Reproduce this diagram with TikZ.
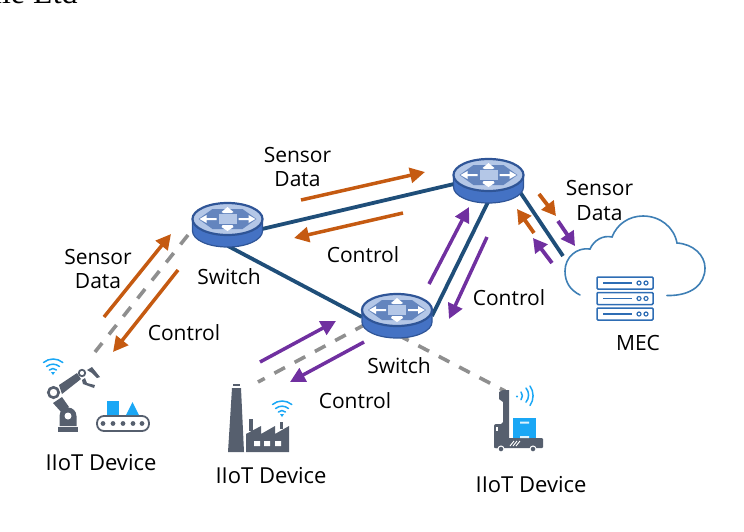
\documentclass[tikz,border=0pt]{standalone}
\usepackage{fontspec}
\setmainfont{Open Sans}
\newfontfamily\serifclip{Liberation Serif}
\usetikzlibrary{arrows.meta}
\definecolor{link}{HTML}{1F4E79}
\definecolor{orangeflow}{HTML}{C55A11}
\definecolor{purpleflow}{HTML}{7030A0}
\definecolor{swblue}{HTML}{4472C4}
\definecolor{swedge}{HTML}{2F5597}
\definecolor{swtop}{HTML}{B4C7E7}
\definecolor{swinner}{HTML}{6485BE}
\definecolor{slate}{HTML}{565F6E}
\definecolor{sky}{HTML}{1AA7F5}
\definecolor{cloudline}{HTML}{3E7FB5}
\definecolor{srv}{HTML}{2E6DB4}
\definecolor{dashgray}{HTML}{8F8F8F}
\tikzset{
  x=1pt,y=-1pt,
  lbl/.style={font=\fontsize{21}{24.5}\selectfont,align=center,inner sep=0pt,text=black},
  devlbl/.style={font=\fontsize{22}{24.5}\selectfont,align=center,inner sep=0pt,text=black},
  swnode/.style={inner sep=0pt,minimum width=71pt,minimum height=44pt},
  linkline/.style={draw=link,line width=3.8pt},
  flowO/.style={draw=orangeflow,line width=3.5pt,-{Triangle[length=15pt,width=15pt]}},
  flowP/.style={draw=purpleflow,line width=3.5pt,-{Triangle[length=15pt,width=15pt]}},
  flowOs/.style={draw=orangeflow,line width=3.8pt,-{Triangle[length=14pt,width=15pt]}},
  flowPs/.style={draw=purpleflow,line width=3.8pt,-{Triangle[length=14pt,width=15pt]}},
  wireless/.style={draw=dashgray,line width=3.6pt,dash pattern=on 12pt off 11pt},
  wifi/.style={draw=sky,line width=1.5pt,line cap=round},
  switchicon/.pic={
    \fill[swblue,draw=swedge,line width=1.2pt] (-35,-4) -- (-35,8) arc[start angle=180,end angle=360,x radius=35pt,y radius=16pt] -- (35,-4) -- cycle;
    \fill[swtop,draw=swedge,line width=2.2pt] (0,-4) ellipse[x radius=35pt,y radius=16pt];
    \fill[swinner] (-29,-4) -- (-15,-14) -- (15,-14) -- (29,-4) -- (15,6) -- (-15,6) -- cycle;
    \fill[swtop] (-9,-9) rectangle (9,1);
    \fill[white] (0,-16) -- (-6,-11) -- (-4,-10) -- (4,-10) -- (6,-11) -- cycle;
    \fill[white] (-5,2) -- (5,2) -- (6,4) -- (0,8) -- (-6,4) -- cycle;
    \fill[white] (-28,-4) -- (-21,-8) -- (-21,-5) -- (-11,-5) -- (-11,-3) -- (-21,-3) -- (-21,0) -- cycle;
    \fill[white] (28,-4) -- (21,-8) -- (21,-5) -- (11,-5) -- (11,-3) -- (21,-3) -- (21,0) -- cycle;
  },
  wifiicon/.pic={
    \fill[sky] (0,0) -- (-2,-3) -- (2,-3) -- cycle;
    \draw[wifi] (-3.6,-5) arc[start angle=135,end angle=45,radius=5pt];
    \draw[wifi] (-6.4,-8.5) arc[start angle=130,end angle=50,radius=10pt];
    \draw[wifi] (-9.5,-12.5) arc[start angle=130,end angle=50,radius=15pt];
  },
  serverrow/.pic={
    \draw[srv,line width=1.5pt,rounded corners=1pt] (-28,-6) rectangle (28,6);
    \draw[srv,line width=1.7pt] (-22,0) -- (7,0);
    \draw[srv,line width=1.2pt] (14,0) circle[radius=2pt] (21,0) circle[radius=2pt];
  }
}
\begin{document}
\begin{tikzpicture}
\useasboundingbox (0,0) rectangle (744,531);
\clip (0,0) rectangle (744,531);
\node[anchor=base west,inner sep=0pt,font=\serifclip\fontsize{32}{32}\selectfont] (clipped) at (-7,3) {ile Ltd};

% switch anchors
\node[swnode] (s1) at (227.5,225) {};
\node[swnode] (s2) at (488.5,181) {};
\node[swnode] (s3) at (397,316) {};
\coordinate (s1r) at (262,229);
\coordinate (s1b) at (228,246);
\coordinate (s2l) at (454,184);
\coordinate (s2b) at (488,202);
\coordinate (s2r) at (520,192);
\coordinate (s3l) at (362,317);
\coordinate (s3r) at (432,316);
\coordinate (s3bl) at (366,324);
\coordinate (s3br) at (398,335);
\coordinate (s1w) at (188,235);
\coordinate (mecIn) at (563,256);
\coordinate (dev1) at (95,352);
\coordinate (dev2) at (258,382);
\coordinate (dev3) at (505,391);

% wireless
\draw[wireless] (s1w) -- (dev1);
\draw[wireless] (s3bl) -- (dev2);
\draw[wireless] (s3br) -- (dev3);
% links
\draw[linkline] (s1r) -- (s2l);
\draw[linkline] (s1b) -- (s3l);
\draw[linkline] (s3r) -- (s2b);
\draw[linkline] (s2r) -- (mecIn);

% switches
\pic at (227.5,223) {switchicon};
\pic at (488.5,179) {switchicon};
\pic at (397,314) {switchicon};

% flow arrows
\coordinate (a1) at (301,200); \coordinate (a2) at (425,172);
\draw[flowO] (a1) -- (a2);
\coordinate (a3) at (403,213); \coordinate (a4) at (294,238);
\draw[flowO] (a3) -- (a4);
\coordinate (a5) at (104,317); \coordinate (a6) at (171,234);
\draw[flowO] (a5) -- (a6);
\coordinate (a7) at (178,270); \coordinate (a8) at (113,352);
\draw[flowO] (a7) -- (a8);
\coordinate (b1) at (429,284); \coordinate (b2) at (469,207);
\draw[flowP] (b1) -- (b2);
\coordinate (b3) at (487,237); \coordinate (b4) at (449,319);
\draw[flowP] (b3) -- (b4);
\coordinate (b5) at (260,362); \coordinate (b6) at (336,321);
\draw[flowP] (b5) -- (b6);
\coordinate (b7) at (364,342); \coordinate (b8) at (290,382);
\draw[flowP] (b7) -- (b8);
\coordinate (c1) at (539,194); \coordinate (c2) at (556,216);
\draw[flowOs] (c1) -- (c2);
\coordinate (c3) at (534,233); \coordinate (c4) at (517,209);
\draw[flowOs] (c3) -- (c4);
\coordinate (c5) at (558,221); \coordinate (c6) at (575,246);
\draw[flowPs] (c5) -- (c6);
\coordinate (c7) at (552,263); \coordinate (c8) at (533,238);
\draw[flowPs] (c7) -- (c8);

% cloud
\draw[cloudline,line width=1.6pt,line cap=round]
  (580,295) .. controls (570,290) and (565,282) .. (565,271)
  .. controls (565,257) and (577,247) .. (590,249)
  .. controls (594,240) and (603,235) .. (612,237)
  .. controls (617,224) and (629,216) .. (643,216)
  .. controls (660,216) and (674,227) .. (677,243)
  .. controls (693,244) and (705,255) .. (705,268)
  .. controls (705,284) and (692,296) .. (667,295.5);
% server
\pic at (625,283) {serverrow};
\pic at (625,298.5) {serverrow};
\pic at (625,314) {serverrow};

% robot
\begin{scope}[slate]
  \fill (58,427) rectangle (78,432);
  \fill (59.5,426) -- (59.5,416) arc[start angle=180,end angle=0,radius=8.5pt] -- (76.5,426) -- cycle;
  \fill[white] (68,416) circle[radius=3.5pt];
  \fill (53,403) -- (62,397) -- (69,407) -- (62,413) -- cycle;
  \fill (59,385) -- (77,373) -- (81,379) -- (62,394) -- cycle;
  \draw[line width=2.6pt,fill=white] (53.5,392.5) circle[radius=5.2pt];
  \draw[line width=1.8pt,fill=white] (82,373) circle[radius=3.2pt];
  \fill (87,370) -- (92,367) -- (100,377) -- (97,378) -- (92,373) -- cycle;
  \fill (82,380) -- (85,378) -- (87,383) -- (95,385) -- (94,388) -- (83,384) -- cycle;
  % conveyor
  \draw[line width=1.8pt,rounded corners=7pt] (97,416) rectangle (149,431);
  \foreach \xx in {103,113,123,133,142} \fill (\xx,423.5) circle[radius=2.4pt];
  % factory
  \fill (232,388) -- (241,388) -- (244,452) -- (228,452) -- cycle;
  \fill (233,384) rectangle (240,386);
  \fill (249,419) rectangle (253,431);
  \fill (280,422) rectangle (283,429);
  \fill (246,452) -- (246,434) -- (261,426) -- (261,434) -- (275,426) -- (275,434) -- (289,426) -- (289,452) -- cycle;
  \fill[white] (254,441) rectangle (260,446) (264,441) rectangle (270,446) (275,441) rectangle (281,446);
  % forklift
  \fill (503,390) -- (509,390) -- (509,440) -- (501,440) -- (501,424) -- (503,422) -- (503,402) -- (499,399) -- (499,392) -- cycle;
  \fill[rounded corners=2pt] (494,424) rectangle (505,448);
  \fill[rounded corners=1pt] (494,438) rectangle (543,448);
  \fill[white] (496,427) rectangle (498,431);
  \draw[white,line width=.9pt] (510,446) -- (514,441) (513,446) -- (517,441) (516,446) -- (520,441);
  \draw[white,line width=1pt,fill=slate] (501,449) circle[radius=3pt] (533,449) circle[radius=3pt];
\end{scope}
\fill[sky] (107,401) rectangle (119,415);
\fill[sky] (132.5,402) -- (126,415) -- (139,415) -- cycle;
\pic at (53,375) {wifiicon};
\pic at (282,417) {wifiicon};
% forklift cargo + signal
\fill[sky] (513,418) rectangle (536,438);
\fill[white!85!sky] (520,421.5) rectangle (529,423.5) (520,436) rectangle (529,438);
\fill[sky] (517,396.5) circle[radius=1.2pt];
\draw[wifi] (521,392) arc[start angle=40,end angle=-40,radius=6pt];
\draw[wifi] (526,388) arc[start angle=40,end angle=-40,radius=11pt];
\draw[wifi] (530,386) arc[start angle=35,end angle=-35,radius=17pt];

% labels
\node[lbl] (t1) at (297.5,167) {Sensor\\Data};
\node[lbl] (t2) at (363,254.5) {Control};
\node[lbl] (t3) at (229,276.5) {Switch};
\node[lbl] (t4) at (98,269) {Sensor\\Data};
\node[lbl] (t5) at (184,332.5) {Control};
\node[lbl] (t6) at (509,297.5) {Control};
\node[lbl] (t7) at (399,365.5) {Switch};
\node[lbl] (t8) at (355,400.5) {Control};
\node[lbl] (t9) at (599.5,200.5) {Sensor\\Data};
\node[lbl] (t10) at (638,342.5) {MEC};
\node[devlbl] (t11) at (101,462.5) {IIoT Device};
\node[devlbl] (t12) at (271,475.5) {IIoT Device};
\node[devlbl] (t13) at (531,484.5) {IIoT Device};
\end{tikzpicture}
\end{document}
